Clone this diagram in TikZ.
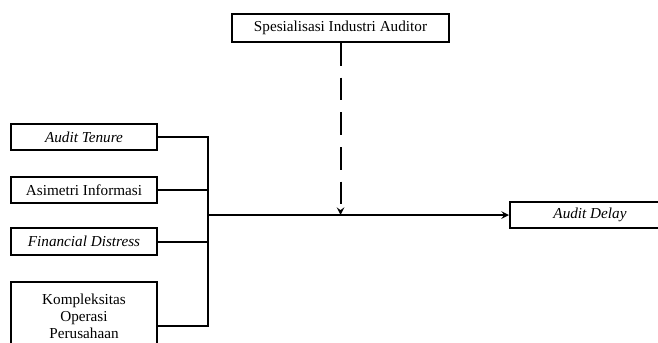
\documentclass[tikz,border=0pt]{standalone}
\usepackage{fontspec}
\setmainfont{Liberation Serif}
\usepackage{tikz}
\usetikzlibrary{calc}

\begin{document}
\begin{tikzpicture}[
        x=0.75pt, y=-0.75pt,
        var/.style={rectangle, draw, line width=1.5pt, minimum width=109.5pt, minimum height=20pt, align=center, inner sep=1pt, font=\fontsize{11.4}{12.75}\selectfont},
        link/.style={line width=1.5pt},
        arrow/.style={->, >=stealth, line width=1.5pt}
    ]
        \useasboundingbox (0,0) rectangle (658,343);

        \node[var] (tenure) at (84,137) {\textit{Audit Tenure}};
        \node[var] (asimetri) at (84,190) {Asimetri Informasi};
        \node[var] (distress) at (84,241.5) {\textit{Financial Distress}};
        \node[var, minimum height=51pt] (kompleks) at (84,316) {Kompleksitas\\Operasi\\Perusahaan};
        \node[var, minimum width=163pt, minimum height=21pt] (spesialisasi) at (340.5,28) {Spesialisasi Industri Auditor};
        \node[var, minimum width=120pt] (delay) at (590,215) {\textit{Audit Delay}};

        \coordinate (top) at (208,137);
        \coordinate (bus) at (208,215);
        \coordinate (bottom) at (208,326);

        \draw[link] (tenure.east) -- (top) -- (bottom) -- (kompleks.east |- bottom);
        \draw[link] (asimetri.east) -- (asimetri.east -| bus);
        \draw[link] (distress.east) -- (distress.east -| bus);
        \draw[arrow] (bus) -- (delay.west);
        \draw[arrow, dash pattern=on 17pt off 9pt] (spesialisasi.south) -- (spesialisasi.south |- bus);
    \end{tikzpicture}
\end{document}
